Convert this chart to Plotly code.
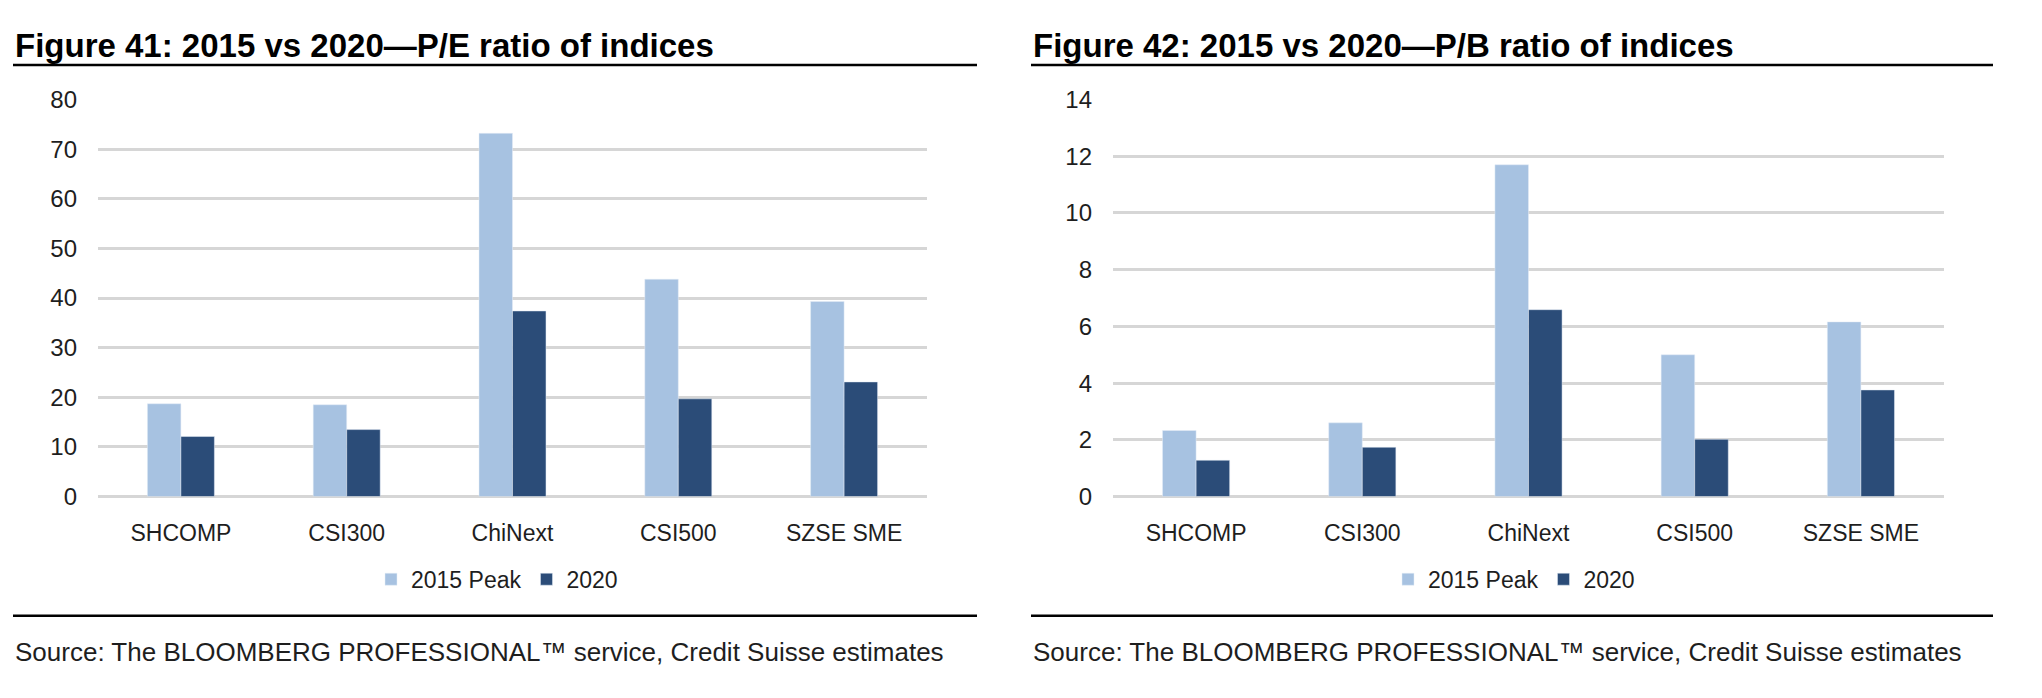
import plotly.graph_objects as go

categories = ["SHCOMP", "CSI300", "ChiNext", "CSI500", "SZSE SME"]
pe_2015_peak = [18.7, 18.5, 73.2, 43.8, 39.3]
pe_2020 = [12.1, 13.5, 37.4, 19.7, 23.1]
pb_2015_peak = [2.33, 2.6, 11.7, 5.0, 6.16]
pb_2020 = [1.28, 1.74, 6.59, 2.02, 3.76]
series_names = ["2015 Peak", "2020"]
titles = ["Figure 41: 2015 vs 2020\u2014P/E ratio of indices",
          "Figure 42: 2015 vs 2020\u2014P/B ratio of indices"]
source_text = "Source: The BLOOMBERG PROFESSIONAL\u2122 service, Credit Suisse estimates"
pe_ticks = [0, 10, 20, 30, 40, 50, 60, 70, 80]
pb_ticks = [0, 2, 4, 6, 8, 10, 12, 14]

W, H = 2042, 698
LIGHT = "#A7C2E1"
DARK = "#2B4C78"
GRID = "#D6D6D6"
TXT = "#1E1E1E"
FONT = "Liberation Sans, Arial, Helvetica, sans-serif"

def px_x(v):
    return v / W

def px_y(v):
    return 1 - v / H

fig = go.Figure()

fig.add_trace(go.Bar(x=categories, y=pe_2015_peak, name=series_names[0], marker_color=LIGHT,
                     xaxis="x", yaxis="y", legend="legend"))
fig.add_trace(go.Bar(x=categories, y=pe_2020, name=series_names[1], marker_color=DARK,
                     xaxis="x", yaxis="y", legend="legend"))
fig.add_trace(go.Bar(x=categories, y=pb_2015_peak, name=series_names[0], marker_color=LIGHT,
                     xaxis="x2", yaxis="y2", legend="legend2"))
fig.add_trace(go.Bar(x=categories, y=pb_2020, name=series_names[1], marker_color=DARK,
                     xaxis="x2", yaxis="y2", legend="legend2"))

ydom = [px_y(502), px_y(89)]
xaxis_common = dict(showgrid=False, showline=False, ticks="", zeroline=False,
                    tickfont=dict(family=FONT, size=23, color=TXT), ticklabelstandoff=20,
                    fixedrange=True)
yaxis_common = dict(showgrid=True, gridcolor=GRID, gridwidth=2.5, zeroline=True,
                    zerolinecolor=GRID, zerolinewidth=2.5, showline=False, ticks="",
                    tickfont=dict(family=FONT, size=24, color=TXT), ticklabelstandoff=20,
                    fixedrange=True)

legend_common = dict(orientation="h", xanchor="center", yanchor="middle",
                     font=dict(family=FONT, size=23, color=TXT), bgcolor="rgba(0,0,0,0)",
                     itemwidth=30, tracegroupgap=0)

fig.update_layout(
    width=W, height=H,
    margin=dict(l=0, r=0, t=0, b=0),
    paper_bgcolor="white", plot_bgcolor="white",
    barmode="group", bargap=0.596, bargroupgap=0,
    showlegend=True,
    xaxis=dict(domain=[px_x(98), px_x(927)], anchor="y", **xaxis_common),
    yaxis=dict(domain=ydom, anchor="x", range=[0, 80], tickvals=pe_ticks, **yaxis_common),
    xaxis2=dict(domain=[px_x(1113), px_x(1944)], anchor="y2", **xaxis_common),
    yaxis2=dict(domain=ydom, anchor="x2", range=[0, 14], tickvals=pb_ticks, **yaxis_common),
    legend=dict(x=px_x(497), y=px_y(588), **legend_common),
    legend2=dict(x=px_x(1514), y=px_y(588), **legend_common),
)

annotations = []
shapes = []
for left, right, title in [(13, 977, titles[0]), (1031, 1993, titles[1])]:
    annotations.append(dict(text="<b>" + title + "</b>", xref="paper", yref="paper",
                            x=px_x(left), y=px_y(33), xanchor="left", yanchor="middle",
                            showarrow=False, font=dict(family=FONT, size=33, color="#000000")))
    annotations.append(dict(text=source_text, xref="paper", yref="paper",
                            x=px_x(left), y=px_y(664), xanchor="left", yanchor="middle",
                            showarrow=False, font=dict(family=FONT, size=26, color=TXT)))
    for yy in (53, 626):
        shapes.append(dict(type="line", xref="paper", yref="paper",
                           x0=px_x(left), x1=px_x(right), y0=px_y(yy), y1=px_y(yy),
                           line=dict(color="#000000", width=2.5)))

fig.update_layout(annotations=annotations, shapes=shapes)

fig.write_html("out.html", config={"displayModeBar": False, "responsive": False},
               post_script="document.body.style.margin='0px';document.body.style.overflow='hidden';")
